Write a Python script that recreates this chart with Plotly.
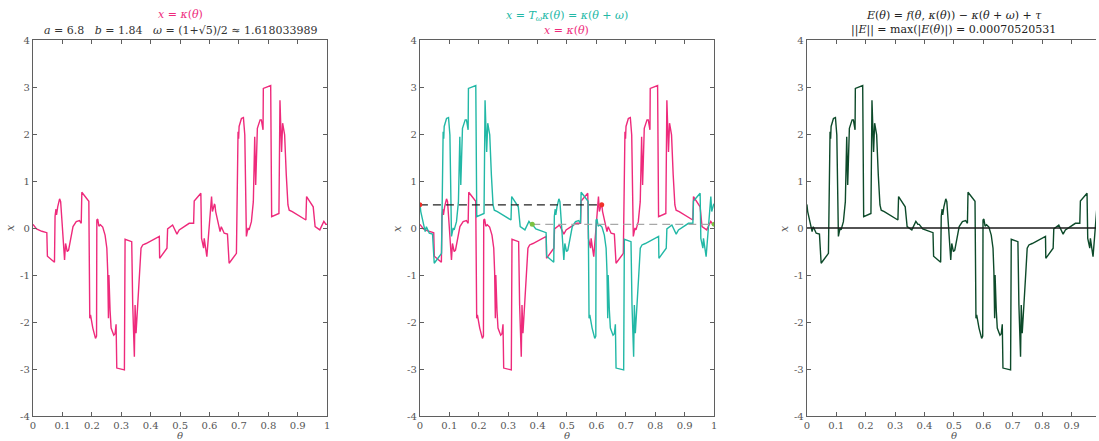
import numpy as np
import plotly.graph_objects as go

# Invariant curve x = kappa(theta) on one period theta in [0, 1]
K_THETA = [
    0.000, 0.012, 0.030, 0.047, 0.049, 0.073, 0.075, 0.078, 0.080, 0.0814,
    0.084, 0.0904, 0.094, 0.099, 0.102, 0.104, 0.1073, 0.1107, 0.1164, 0.121,
    0.130, 0.136, 0.147, 0.158, 0.164, 0.166, 0.1898, 0.193, 0.1955, 0.2034,
    0.2124, 0.216, 0.217, 0.220, 0.224, 0.229, 0.237, 0.245, 0.251, 0.254,
    0.2565, 0.258, 0.262, 0.2655, 0.2746, 0.279, 0.2825, 0.2848, 0.3107, 0.313,
    0.3356, 0.339, 0.3446, 0.347, 0.3503, 0.356, 0.362, 0.3672, 0.373, 0.3842,
    0.4294, 0.4305, 0.4554, 0.4576, 0.4746, 0.4893, 0.497, 0.531, 0.546, 0.548,
    0.5706, 0.573, 0.580, 0.582, 0.591, 0.607, 0.610, 0.6165, 0.6185, 0.621,
    0.633, 0.636, 0.640, 0.650, 0.661, 0.6667, 0.6915, 0.695, 0.697, 0.699,
    0.7006, 0.7085, 0.7153, 0.720, 0.7254, 0.731, 0.7345, 0.7424, 0.749, 0.7537,
    0.757, 0.7627, 0.772, 0.7763, 0.782, 0.783, 0.808, 0.8113, 0.836, 0.8395,
    0.845, 0.8486, 0.8554, 0.861, 0.8667, 0.871, 0.8814, 0.9277, 0.930, 0.9525,
    0.959, 0.975, 0.9887, 0.9955, 1.000,
]
K_X = [
    0.078, -0.02, -0.07, -0.10, -0.60, -0.73, 0.25, 0.40, 0.28, 0.42,
    0.45, 0.62, 0.56, 0.10, -0.30, -0.43, -0.68, -0.33, -0.50, -0.47,
    -0.15, 0.03, 0.135, 0.156, 0.10, 0.76, 0.57, -1.92, -1.85, -2.13,
    -2.35, -2.30, 0.17, 0.19, 0.04, 0.07, 0.02, -0.15, -0.43, -0.93,
    -1.92, -1.00, -1.75, -2.13, -2.28, -2.25, -2.05, -2.98, -3.02, -0.24,
    -0.29, -1.64, -2.74, -1.64, -2.24, -1.71, -1.00, -0.43, -0.36, -0.33,
    -0.18, -0.645, -0.43, -0.02, 0.064, -0.13, -0.043, 0.10, 0.10, 0.574,
    0.74, -0.22, -0.43, -0.22, -0.61, 0.67, 0.35, 0.50, 0.49, 0.35,
    0.028, -0.078, 0.028, -0.11, -0.13, -0.75, -0.54, 1.87, 2.05, 1.90,
    2.16, 2.33, 2.35, 1.98, -0.18, 0.00, -0.04, 0.135, 0.56, 1.94,
    0.915, 2.12, 2.30, 2.30, 2.09, 2.97, 3.03, 0.24, 0.31, 2.72,
    1.62, 2.23, 1.98, 1.13, 0.49, 0.38, 0.35, 0.17, 0.67, 0.45,
    0.03, -0.04, 0.14, 0.08, 0.078,
]

# Conjugacy error E(theta), numerically zero at plotting scale
E_THETA = [0.0, 1.0]
E_VALS = [0.0, 0.0]

A_PARAM = 6.8
B_PARAM = 1.84
OMEGA = (1 + 5 ** 0.5) / 2

X_TICKS = [0, 0.1, 0.2, 0.3, 0.4, 0.5, 0.6, 0.7, 0.8, 0.9, 1]
X_TICK_TEXT = ["0", "0.1", "0.2", "0.3", "0.4", "0.5", "0.6", "0.7", "0.8", "0.9", "1"]
Y_TICKS = [-4, -3, -2, -1, 0, 1, 2, 3, 4]
Y_TICK_TEXT = ["-4", "-3", "-2", "-1", "0", "1", "2", "3", "4"]

PINK = "#ee2a7b"
TEAL = "#22b8a6"
DARK = "#0d4a2a"
AXIS = "#5f5f5f"
FONT = "DejaVu Serif"


def translate(theta, vals, w):
    """Return the curve theta -> kappa(theta + w) on [0, 1] (period 1)."""
    th = np.asarray(theta, dtype=float)
    v = np.asarray(vals, dtype=float)
    w = w % 1.0
    k_w = float(np.interp(w, th, v))
    hi = th > w
    lo = th < w
    new_th = np.concatenate([[0.0], th[hi] - w, th[lo] + 1.0 - w, [1.0]])
    new_v = np.concatenate([[k_w], v[hi], v[lo], [k_w]])
    return new_th, new_v, k_w


w_frac = OMEGA % 1.0
T_THETA, T_X, K_AT_W = translate(K_THETA, K_X, OMEGA)
K_AT_0 = K_X[0]

fig = go.Figure()

line_w = 1.4
# Panel 1: kappa
fig.add_trace(go.Scatter(x=K_THETA, y=K_X, mode="lines",
                         line=dict(color=PINK, width=line_w),
                         xaxis="x", yaxis="y", showlegend=False))

# Panel 2: kappa and its translate
fig.add_trace(go.Scatter(x=K_THETA, y=K_X, mode="lines",
                         line=dict(color=PINK, width=line_w),
                         xaxis="x2", yaxis="y2", showlegend=False))
fig.add_trace(go.Scatter(x=T_THETA, y=T_X, mode="lines",
                         line=dict(color=TEAL, width=line_w),
                         xaxis="x2", yaxis="y2", showlegend=False))
fig.add_trace(go.Scatter(x=[0, w_frac], y=[K_AT_W, K_AT_W], mode="lines+markers",
                         line=dict(color="#222222", width=1.2, dash="8px,5px"),
                         marker=dict(color="#f0302a", size=5),
                         xaxis="x2", yaxis="y2", showlegend=False))
fig.add_trace(go.Scatter(x=[1 - w_frac, 1], y=[K_AT_0, K_AT_0], mode="lines+markers",
                         line=dict(color="#a8a8a8", width=1.2, dash="8px,5px"),
                         marker=dict(color="#7cc242", size=5),
                         xaxis="x2", yaxis="y2", showlegend=False))

# Panel 3: translate and the error
fig.add_trace(go.Scatter(x=T_THETA, y=T_X, mode="lines",
                         line=dict(color=DARK, width=line_w),
                         xaxis="x3", yaxis="y3", showlegend=False))
fig.add_trace(go.Scatter(x=E_THETA, y=E_VALS, mode="lines",
                         line=dict(color="#1a1a1a", width=1.5),
                         xaxis="x3", yaxis="y3", showlegend=False))

W, H = 1099, 441
L, R, T, B = 33, 0, 40, 25
PW = W - L - R
PH = H - T - B
panel_left = [33, 421, 809]
panel_w = 295


def px_x(p):
    return (p - L) / PW


def px_y(p):
    return (H - B - p) / PH


tick_font = dict(family=FONT, size=10, color="#555555")


def xaxis(i, rng):
    d0 = px_x(panel_left[i])
    d1 = min(1.0, px_x(panel_left[i] + panel_w))
    return dict(domain=[d0, d1], range=rng, anchor="y" if i == 0 else f"y{i+1}",
                tickvals=X_TICKS, ticktext=X_TICK_TEXT, ticks="inside", ticklen=4,
                tickcolor=AXIS, tickwidth=1, showline=True, linecolor=AXIS, linewidth=1.3,
                mirror="ticks", showgrid=False, zeroline=False, tickfont=tick_font)


def yaxis(i, mirror):
    return dict(domain=[0, 1], range=[-4, 4], anchor="x" if i == 0 else f"x{i+1}",
                tickvals=Y_TICKS, ticktext=Y_TICK_TEXT, ticks="inside", ticklen=4,
                tickcolor=AXIS, tickwidth=1, showline=True, linecolor=AXIS, linewidth=1.3,
                mirror=mirror, showgrid=False, zeroline=False, tickfont=tick_font)


x3_end = (W - panel_left[2]) / panel_w

fig.update_layout(
    width=W, height=H,
    margin=dict(l=L, r=R, t=T, b=B, pad=0),
    paper_bgcolor="white", plot_bgcolor="white",
    xaxis=xaxis(0, [0, 1]), yaxis=yaxis(0, "ticks"),
    xaxis2=xaxis(1, [0, 1]), yaxis2=yaxis(1, "ticks"),
    xaxis3=xaxis(2, [0, x3_end]), yaxis3=yaxis(2, False),
    font=dict(family=FONT),
)

centers = [px_x(p + panel_w / 2) for p in panel_left]
title_font = 11


def ann(x, ypx, text, color, size=title_font, angle=0):
    fig.add_annotation(x=x, y=px_y(ypx), xref="paper", yref="paper", text=text,
                       showarrow=False, xanchor="center", yanchor="middle",
                       textangle=angle, borderpad=0,
                       font=dict(family=FONT, size=size, color=color))


ann(centers[0], 14, "<i>x</i> = <i>κ</i>(<i>θ</i>)", PINK)
ann(centers[0], 31,
    f"<i>a</i> = {A_PARAM}   <i>b</i> = {B_PARAM}   <i>ω</i> = (1+√5)/2 ≈ {OMEGA:.9f}",
    "#333333")
ann(centers[1], 16, "<i>x</i> = <i>T</i><sub><i>ω</i></sub><i>κ</i>(<i>θ</i>) = <i>κ</i>(<i>θ</i> + <i>ω</i>)", TEAL)
ann(centers[1], 31, "<i>x</i> = <i>κ</i>(<i>θ</i>)", PINK)
ann(centers[2], 15,
    "<i>E</i>(<i>θ</i>) = <i>f</i>(<i>θ</i>, <i>κ</i>(<i>θ</i>)) − <i>κ</i>(<i>θ</i> + <i>ω</i>) + <i>τ</i>",
    "#222222")
ann(centers[2], 30, "||<i>E</i>|| = max(|<i>E</i>(<i>θ</i>)|) = 0.00070520531", "#222222")

for i, p in enumerate(panel_left):
    ann(centers[i], 435.5, "<i>θ</i>", "#555555", size=10)
    ann(px_x(p - 23), 228, "<i>x</i>", "#555555", size=11, angle=-90)

fig.write_html("out.html")
